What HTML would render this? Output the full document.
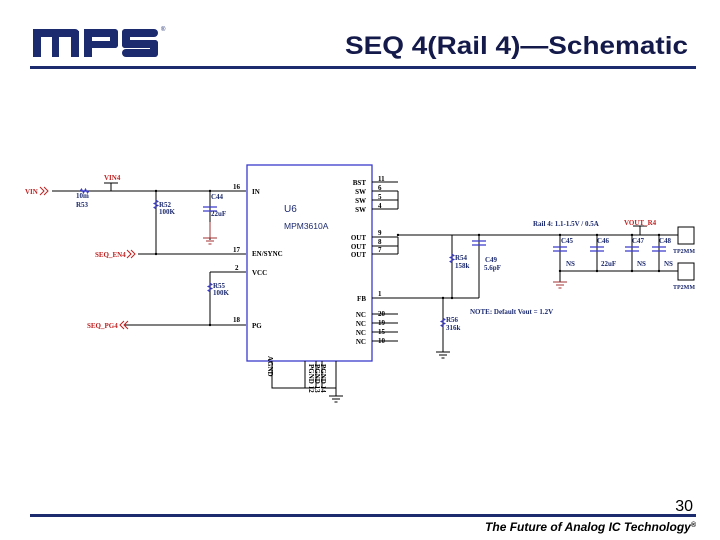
<!DOCTYPE html>
<html><head><style>
body{margin:0;width:720px;height:540px;background:#fff;overflow:hidden;font-family:"Liberation Sans",sans-serif}
</style></head><body>
<svg width="720" height="540" xmlns="http://www.w3.org/2000/svg" style="position:absolute;left:0;top:0">
<!-- logo -->
<g fill="#1c2a6e">
<rect x="33" y="29" width="8" height="28"/><rect x="33" y="29" width="46" height="8" rx="4"/><rect x="52" y="31" width="7" height="26"/><rect x="71" y="31" width="8" height="26"/>
<rect x="84" y="29" width="8" height="28"/><rect x="84" y="29" width="34" height="8" rx="4"/><rect x="84" y="41" width="34" height="7" rx="3"/><rect x="110" y="29" width="8" height="19" rx="3"/>
<rect x="122" y="29" width="36" height="8" rx="4"/><rect x="122" y="29" width="8" height="19" rx="3"/><rect x="122" y="40" width="36" height="8" rx="3"/><rect x="150" y="40" width="8" height="17" rx="3"/><rect x="122" y="49" width="36" height="8" rx="4"/>
</g>
<text x="161" y="31" font-size="6" fill="#1c2a6e">®</text>
<text x="345" y="54" font-size="25" fill="#141a4a" font-weight="bold" textLength="343" lengthAdjust="spacingAndGlyphs">SEQ 4(Rail 4)—Schematic</text>
<rect x="30" y="66" width="666" height="3" fill="#1c2a6e"/>
<rect x="30" y="514" width="666" height="3" fill="#1c2a6e"/>
<text x="693" y="511" font-size="16" text-anchor="end">30</text>
<text x="696" y="531" font-size="12" text-anchor="end" font-style="italic" font-weight="bold">The Future of Analog IC Technology<tspan font-size="7" dy="-4">®</tspan></text>

<g font-family="Liberation Serif,serif" font-size="7" font-weight="bold">
<!-- chip -->
<rect x="247" y="165" width="125" height="196" fill="none" stroke="#3a3acc" stroke-width="1.3"/>
<text x="284" y="212" font-family="Liberation Sans" font-size="10" font-weight="normal" fill="#1c2a6e">U6</text>
<text x="284" y="229" font-family="Liberation Sans" font-size="8.5" font-weight="normal" fill="#1c2a6e">MPM3610A</text>
<g fill="#000">
<text x="252" y="194">IN</text><text x="252" y="256">EN/SYNC</text><text x="252" y="275">VCC</text><text x="252" y="328">PG</text>
<text x="366" y="185" text-anchor="end">BST</text><text x="366" y="194" text-anchor="end">SW</text><text x="366" y="203" text-anchor="end">SW</text><text x="366" y="212" text-anchor="end">SW</text>
<text x="366" y="240" text-anchor="end">OUT</text><text x="366" y="249" text-anchor="end">OUT</text><text x="366" y="257" text-anchor="end">OUT</text>
<text x="366" y="301" text-anchor="end">FB</text>
<text x="366" y="317" text-anchor="end">NC</text><text x="366" y="326" text-anchor="end">NC</text><text x="366" y="335" text-anchor="end">NC</text><text x="366" y="344" text-anchor="end">NC</text>
<text x="233" y="189">16</text><text x="233" y="252">17</text><text x="235" y="270">2</text><text x="233" y="322">18</text>
<text x="378" y="181">11</text><text x="378" y="190">6</text><text x="378" y="199">5</text><text x="378" y="208">4</text>
<text x="378" y="235">9</text><text x="378" y="244">8</text><text x="378" y="252">7</text><text x="378" y="296">1</text>
<text x="378" y="316">20</text><text x="378" y="325">19</text><text x="378" y="334">15</text><text x="378" y="343">10</text>
<text transform="translate(268,356) rotate(90)">AGND</text>
<text transform="translate(309,364) rotate(90)">PGND 12</text>
<text transform="translate(315,364) rotate(90)">PGND 13</text>
<text transform="translate(321,364) rotate(90)">PGND 14</text>
</g>
<g stroke="#000" stroke-width="1" fill="none">
<path d="M372 182H398M372 191H398M372 200H398M372 209H398M398 191V209"/>
<path d="M372 237H398M372 246H398M372 254H398M398 237V254"/>
<path d="M372 314H398M372 323H398M372 332H398M372 341H398"/>
<path d="M52 191H246M111 191V183M156 191V254M210 191V240M138 254H246"/>
<path d="M210 272H246M210 272V325M125 325H246"/>
<path d="M398 235H675M479 235V298M452 235V298M372 298H479M443 298V352"/>
<path d="M560 235V271M597 235V271M632 235V271M659 235V271M560 271H675M560 271V282"/>
<path d="M675 235H678M675 271H678"/>
<path d="M272 361V388H316M305 361V388M316 361V388M322 361V388M322 388H336M336 361V396"/>
</g>
<g stroke="#3a3acc" stroke-width="1.2">
<path d="M203 207H217M203 211H217"/>
<path d="M472 241H486M472 245H486"/>
<path d="M553 247H567M553 251H567M590 247H604M590 251H604M625 247H639M625 251H639M652 247H666M652 251H666"/>
</g>
<g stroke="#3a3acc" stroke-width="1" fill="none">
<path d="M80 191l1.5-2 2 4 2-4 2 4 1.5-2"/>
<path d="M156 200l2 1.5-4 2 4 2-4 2 2 1.5"/>
<path d="M210 283l2 1.5-4 2 4 2-4 2 2 1.5"/>
<path d="M452 254l2 1.5-4 2 4 2-4 2 2 1.5"/>
<path d="M443 318l2 1.5-4 2 4 2-4 2 2 1.5"/>
</g>
<g stroke="#a03030" stroke-width="1">
<path d="M203 238H217M206 241H214M208.5 244H211.5M210 222V238"/>
<path d="M553 282H567M556 285H564M558.5 288H561.5"/>
</g>
<g stroke="#000" stroke-width="1">
<path d="M436 352H450M439 355H447M441.5 358H444.5"/>
<path d="M329 396H343M332 399H340M334.5 402H337.5"/>
<path d="M104 183H118M633 226H647M640 226V235"/>
</g>
<g fill="#000">
<circle cx="156" cy="191" r="1.2"/><circle cx="210" cy="191" r="1.2"/><circle cx="156" cy="254" r="1.2"/><circle cx="210" cy="325" r="1.2"/>
<circle cx="398" cy="235" r="1.2"/><circle cx="479" cy="235" r="1.2"/><circle cx="452" cy="298" r="1.2"/><circle cx="443" cy="298" r="1.2"/>
<circle cx="560" cy="235" r="1.2"/><circle cx="597" cy="235" r="1.2"/><circle cx="632" cy="235" r="1.2"/><circle cx="659" cy="235" r="1.2"/>
<circle cx="560" cy="271" r="1.2"/><circle cx="597" cy="271" r="1.2"/><circle cx="632" cy="271" r="1.2"/><circle cx="659" cy="271" r="1.2"/>
</g>
<rect x="678" y="227" width="16" height="17" fill="none" stroke="#000"/>
<rect x="678" y="263" width="16" height="17" fill="none" stroke="#000"/>
<g fill="#c02020">
<text x="25" y="194">VIN</text><text x="104" y="180">VIN4</text>
<text x="95" y="257">SEQ_EN4</text><text x="87" y="328">SEQ_PG4</text>
<text x="624" y="225">VOUT_R4</text>
</g>
<g stroke="#c02020" fill="none" stroke-width="1">
<path d="M40 187l4 4-4 4M44 187l4 4-4 4M127 250l4 4-4 4M131 250l4 4-4 4M124 321l-4 4 4 4M128 321l-4 4 4 4"/>
</g>
<g fill="#1c2a6e">
<text x="76" y="198">10m</text><text x="76" y="207">R53</text>
<text x="159" y="207">R52</text><text x="159" y="214">100K</text>
<text x="211" y="199">C44</text><text x="211" y="216">22uF</text>
<text x="213" y="288">R55</text><text x="213" y="295">100K</text>
<text x="455" y="260">R54</text><text x="455" y="268">158k</text>
<text x="485" y="262">C49</text><text x="484" y="270">5.6pF</text>
<text x="446" y="322">R56</text><text x="446" y="330">316k</text>
<text x="561" y="243">C45</text><text x="597" y="243">C46</text><text x="632" y="243">C47</text><text x="659" y="243">C48</text>
<text x="566" y="266">NS</text><text x="601" y="266">22uF</text><text x="637" y="266">NS</text><text x="664" y="266">NS</text>
<text x="533" y="226">Rail 4: 1.1-1.5V / 0.5A</text>
<text x="470" y="314">NOTE: Default Vout = 1.2V</text>
<text x="673" y="253" font-size="6">TP2MM</text><text x="673" y="289" font-size="6">TP2MM</text>
</g>
</g>
</svg>
</body></html>
